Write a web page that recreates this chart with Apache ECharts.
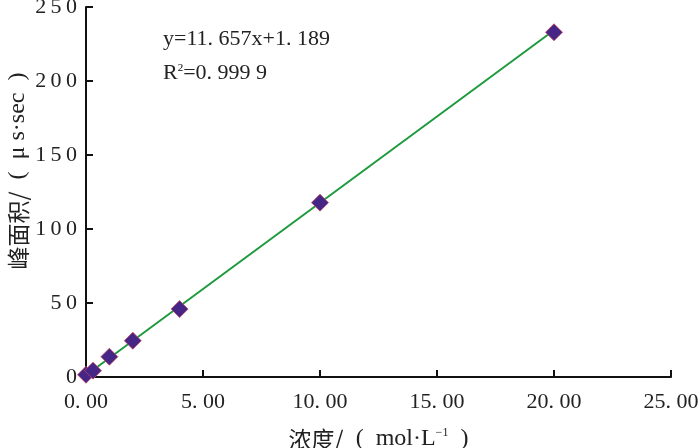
<!DOCTYPE html>
<html><head><meta charset="utf-8">
<script src="https://cdn.jsdelivr.net/npm/echarts@6/dist/echarts.min.js"></script>
<style>html,body{margin:0;padding:0;background:#fff}#c{width:700px;height:448px}</style>
</head><body><div id="c"></div>
<script>
const concentrations = [0, 0.3, 1, 2, 4, 10, 20];
const peakAreas = [1.5, 4.3, 13.7, 24.5, 45.9, 117.8, 232.9];
const fitSlope = 11.657;
const fitIntercept = 1.189;
const fitRange = [0, 20];
const yTicks = [0, 50, 100, 150, 200, 250];
const xTicks = [0, 5, 10, 15, 20, 25];
const xNameCjk = '浓度/';
const xNameUnit = '  (  mol·L';
const yNameCjk = '峰面积/';
const yNameUnit = '  (  μ s·sec  )';
const eqLine1 = 'y=11. 657x+1. 189';
const eqLine2 = '0. 999 9';

const fitLine = fitRange.map(x => [x, fitSlope * x + fitIntercept]);
const serif = '"Liberation Serif","DejaVu Serif",serif';
const cjk = '"Noto Sans CJK SC","Liberation Serif",serif';

const chart = echarts.init(document.getElementById('c'));
chart.setOption({
  animation: false,
  backgroundColor: '#fff',
  grid: {left: 86, right: 29, top: 7, bottom: 71, containLabel: false, outerBoundsMode: 'none'},
  xAxis: {
    type: 'value', min: xTicks[0], max: xTicks[xTicks.length-1], interval: 5,
    axisLine: {show: true, onZero: false, lineStyle: {color: '#111', width: 2}},
    axisTick: {show: true, inside: true, length: 7, lineStyle: {color: '#111', width: 2}},
    splitLine: {show: false},
    axisLabel: {margin: 14, color: '#222', fontFamily: serif, fontSize: 22,
      formatter: v => v.toFixed(2).replace('.', '. ')},
    name: '{c|' + xNameCjk + '}{l|' + xNameUnit + '}{s|−1}{l|  )}', nameLocation: 'middle', nameGap: 50,
    nameTextStyle: {rich: {
      c: {fontFamily: cjk, fontSize: 23, color: '#222'},
      l: {fontFamily: serif, fontSize: 24, color: '#222'},
      s: {fontFamily: serif, fontSize: 12, color: '#222', padding: [0,0,12,0]}
    }}
  },
  yAxis: {
    type: 'value', min: yTicks[0], max: yTicks[yTicks.length-1], interval: 50,
    axisLine: {show: true, onZero: false, lineStyle: {color: '#111', width: 2}},
    axisTick: {show: true, inside: true, length: 7, lineStyle: {color: '#111', width: 2}},
    splitLine: {show: false},
    axisLabel: {margin: 9, color: '#222', fontFamily: serif, fontSize: 22,
      formatter: v => String(v).split('').join('\u2009')}
  },
  graphic: [
    {type: 'text', x: 18, y: 171, rotation: Math.PI/2, style: {
      text: '{c|' + yNameCjk + '}{l|' + yNameUnit + '}', align: 'center', verticalAlign: 'middle',
      rich: {
        c: {fontFamily: cjk, fontSize: 23, fill: '#222', color: '#222'},
        l: {fontFamily: serif, fontSize: 24, fill: '#222', color: '#222'}
      }}},
    {type: 'text', left: 163, top: 28, style: {
      text: eqLine1, font: '22px ' + serif, fill: '#222'}},
    {type: 'text', left: 163, top: 62, style: {
      text: '{a|R}{s|2}{a|=' + eqLine2 + '}', rich: {
        a: {fontFamily: serif, fontSize: 22, fill: '#222', color: '#222'},
        s: {fontFamily: serif, fontSize: 11, color: '#222', padding: [0,0,10,0]}
      }}}
  ],
  series: [
    {type: 'line', data: fitLine, symbol: 'none', lineStyle: {color: '#1e9a3e', width: 2}, z: 2},
    {type: 'scatter', data: concentrations.map((x, i) => [x, peakAreas[i]]),
      symbol: 'diamond', symbolSize: [17, 17],
      itemStyle: {color: '#452585', borderColor: '#c2455f', borderWidth: 0.8, opacity: 1}, z: 3}
  ]
});
</script></body></html>
